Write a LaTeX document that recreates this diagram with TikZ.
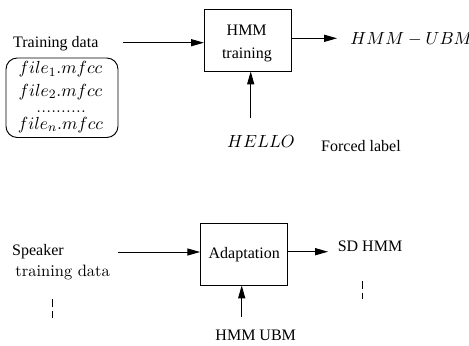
\documentclass[tikz,border=0pt]{standalone}
\usepackage{fontspec}
\newfontfamily\tms{Liberation Serif}
\usetikzlibrary{arrows.meta}
\begin{document}
\begin{tikzpicture}[x=0.625pt,y=-0.625pt,
  line width=0.6pt,
  arr/.style={-{Triangle[length=8pt,width=4.4pt]}},
  procbox/.style={draw,rectangle,inner sep=0pt,minimum width=54.5pt,minimum height=38.5pt},
  tlabel/.style={anchor=base west,inner sep=0pt,font=\tms\fontsize{10}{12}\selectfont},
  mlabel/.style={anchor=base west,inner sep=0pt,font=\fontsize{11}{13}\selectfont},
  flabel/.style={anchor=base,inner sep=0pt,font=\fontsize{11}{13}\selectfont},
  dashline/.style={dash pattern=on 5pt off 2.6pt}]
\useasboundingbox (0,0) rectangle (469,345);

% ---- upper chain: HMM training ----
\node[procbox] (hmmbox) at (248,40.2) {};
\node[anchor=base,inner sep=0pt,font=\tms\fontsize{10}{12}\selectfont] (hmmt1) at (246.7,35) {HMM};
\node[anchor=base,inner sep=0pt,font=\tms\fontsize{10}{12}\selectfont] (hmmt2) at (246.9,58) {training};

\node[tlabel] (trdata) at (12.7,47.3) {Training data};
\draw[rounded corners=7pt] (6,58) rectangle (118,137.5);
\node[flabel] (f1) at (60.5,73.5) {$file_1.mfcc$};
\node[flabel] (f2) at (60.5,96) {$file_2.mfcc$};
\node[flabel] (fdots) at (63.5,112.5) {\makebox[34pt]{\leaders\hbox to 3.1pt{\hss.\hss}\hfill}};
\node[flabel] (fn) at (60.5,129) {$file_n.mfcc$};

\coordinate (trin) at (123,42.7);
\draw[arr] (trin) -- (trin -| hmmbox.west);

\coordinate (hmmout) at (337,38.3);
\draw[arr] (hmmout -| hmmbox.east) -- (hmmout);
\node[mlabel] (ubm) at (350,44.3) {$HMM-UBM$};

\coordinate (hello) at (250.7,118);
\draw[arr] (hello) -- (hello |- hmmbox.south);
\node[mlabel] (hellot) at (226.7,147) {$HELLO$};
\node[tlabel] (forced) at (320.7,151.3) {Forced label};

% ---- lower chain: adaptation ----
\node[procbox,font=\tms\fontsize{10}{12}\selectfont] (adapt) at (244.2,254.2) {Adaptation};

\node[tlabel] (spk) at (11.7,255) {Speaker};
\node[anchor=base west,inner sep=0pt,font=\fontsize{10.3}{12}\selectfont] (spk2) at (15,276.7) {training data};
\coordinate (spkin) at (118,252);
\draw[arr] (spkin) -- (spkin -| adapt.west);

\coordinate (sdout) at (328,251.7);
\draw[arr] (sdout -| adapt.east) -- (sdout);
\node[tlabel] (sd) at (337.3,251.5) {SD HMM};

\coordinate (ubmin) at (241.7,316.7);
\draw[arr] (ubmin) -- (ubmin |- adapt.south);
\node[tlabel] (ubmt) at (215,340.7) {HMM UBM};

% continuation marks
\coordinate (dl1) at (52,299);
\coordinate (dl2) at (52,318);
\draw[dashline] (dl1) -- (dl2);
\coordinate (dr1) at (362,281);
\coordinate (dr2) at (362,299);
\draw[dashline] (dr1) -- (dr2);
\end{tikzpicture}
\end{document}
